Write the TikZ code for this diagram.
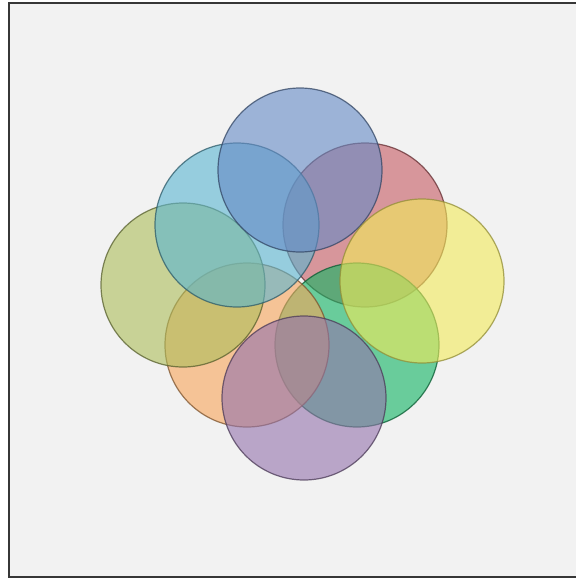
\documentclass[tikz,border=0pt]{standalone}
\usepackage{tikz}
\usetikzlibrary{positioning}

\definecolor{cBlue}{RGB}{100,138,198}
\definecolor{cCyan}{RGB}{89,181,209}
\definecolor{cRed}{RGB}{197,89,97}
\definecolor{cOlive}{RGB}{172,189,89}
\definecolor{cYellow}{RGB}{242,235,89}
\definecolor{cOrange}{RGB}{247,164,89}
\definecolor{cGreen}{RGB}{14,180,97}
\definecolor{cPurple}{RGB}{147,114,172}
\definecolor{panel}{RGB}{242,242,242}
\definecolor{frameline}{RGB}{55,55,55}

\begin{document}
\begin{tikzpicture}[
        x=0.5pt, y=-0.5pt,
        disc/.style={circle, inner sep=0pt, minimum size=82pt, line width=0.6pt,
                     fill opacity=0.6, draw opacity=0.75},
    ]
        \useasboundingbox (0,0) rectangle (576,578);
        % panel
        \fill[white] (0,0) rectangle (576,578);
        \draw[frameline, line width=1pt, fill=panel] (8.5,2.5) rectangle (590,576.5);

        % circles, bottom to top
        \node[disc, fill=cRed, draw=cRed!50!black] (red) at (365,225) {};
        \node[disc, fill=cGreen, draw=cGreen!50!black] (green) at (357,345) {};
        \node[disc, fill=cOrange, draw=cOrange!50!black] (orange) at (247,345) {};
        \node[disc, fill=cOlive, draw=cOlive!50!black] (olive) at (183,285) {};
        \node[disc, fill=cCyan, draw=cCyan!50!black] (cyan) at (237,225) {};
        \node[disc, fill=cBlue, draw=cBlue!50!black] (blue) at (300,170) {};
        \node[disc, fill=cYellow, draw=cYellow!60!black] (yellow) at (422,281) {};
        \node[disc, fill=cPurple, draw=cPurple!50!black] (purple) at (304,398) {};
    \end{tikzpicture}
\end{document}
